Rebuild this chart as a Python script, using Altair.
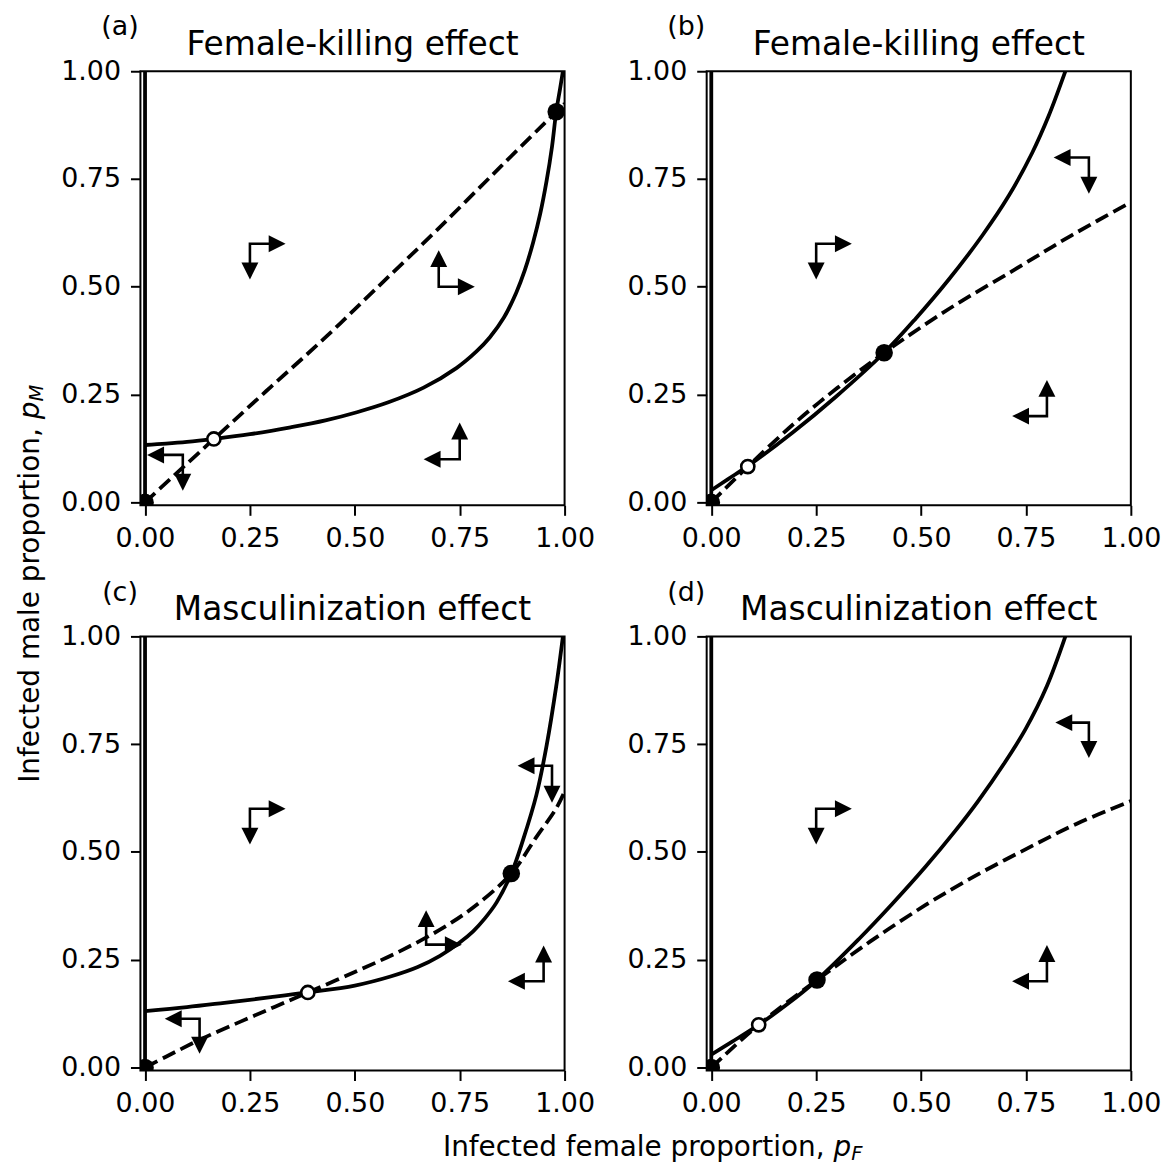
import altair as alt
import pandas as pd

FONT = "DejaVu Sans"

# ---------------- text content ----------------
TICKS = [0.0, 0.25, 0.5, 0.75, 1.0]
LETTERS = ["(a)", "(b)", "(c)", "(d)"]
TITLES = ["Female-killing effect", "Female-killing effect",
          "Masculinization effect", "Masculinization effect"]
XLABEL = "Infected female proportion,"
YLABEL = "Infected male proportion,"
VAR = "p"
XSUB = "F"
YSUB = "M"

VLINE_X = [0.0]

# ---------------- panel (a) ----------------
A_SOLID_X = [0.0, 0.05, 0.10, 0.164, 0.25, 0.347, 0.43, 0.505, 0.58, 0.664, 0.743, 0.79,
             0.822, 0.855, 0.885, 0.905, 0.925, 0.942, 0.957, 0.970, 0.980, 0.989, 0.996]
A_SOLID_Y = [0.133, 0.136, 0.140, 0.147, 0.158, 0.174, 0.190, 0.209, 0.232, 0.266, 0.312, 0.350,
             0.383, 0.428, 0.487, 0.538, 0.603, 0.670, 0.745, 0.825, 0.906, 0.958, 1.0]
A_DASH_X = [0.0, 0.164, 0.30, 0.426, 0.55, 0.695, 0.85, 0.98, 1.0]
A_DASH_Y = [0.0, 0.147, 0.268, 0.379, 0.495, 0.631, 0.781, 0.906, 0.925]
A_STABLE_X = [0.0, 0.98]
A_STABLE_Y = [0.0, 0.906]
A_UNSTABLE_X = [0.164]
A_UNSTABLE_Y = [0.147]
A_ARROW_CX = [0.25, 0.70, 0.75, 0.09]
A_ARROW_CY = [0.60, 0.50, 0.10, 0.11]
A_ARROW_HX = [0.335, 0.786, 0.664, 0.005]
A_ARROW_VY = [0.517, 0.585, 0.185, 0.027]

# ---------------- panel (b) ----------------
B_SOLID_X = [0.0, 0.04, 0.087, 0.194, 0.297, 0.412, 0.487, 0.567, 0.646, 0.709, 0.765, 0.804, 0.844]
B_SOLID_Y = [0.028, 0.054, 0.084, 0.162, 0.245, 0.347, 0.426, 0.518, 0.619, 0.711, 0.811, 0.896, 1.0]
B_DASH_X = [0.0, 0.087, 0.20, 0.30, 0.412, 0.567, 0.725, 0.86, 1.0]
B_DASH_Y = [0.0, 0.083, 0.185, 0.265, 0.347, 0.449, 0.541, 0.620, 0.696]
B_STABLE_X = [0.0, 0.412]
B_STABLE_Y = [0.0, 0.347]
B_UNSTABLE_X = [0.087]
B_UNSTABLE_Y = [0.083]
B_ARROW_CX = [0.25, 0.90, 0.80]
B_ARROW_CY = [0.60, 0.80, 0.20]
B_ARROW_HX = [0.335, 0.816, 0.717]
B_ARROW_VY = [0.517, 0.716, 0.284]

# ---------------- panel (c) ----------------
C_SOLID_X = [0.0, 0.1, 0.189, 0.3, 0.388, 0.5, 0.585, 0.65, 0.703, 0.75, 0.782, 0.81, 0.838,
             0.873, 0.901, 0.933, 0.957, 0.980, 0.996]
C_SOLID_Y = [0.131, 0.140, 0.150, 0.163, 0.174, 0.190, 0.211, 0.233, 0.259, 0.290, 0.316, 0.346,
             0.383, 0.450, 0.528, 0.633, 0.746, 0.884, 1.0]
C_DASH_X = [0.0, 0.05, 0.134, 0.229, 0.31, 0.388, 0.506, 0.608, 0.70, 0.782, 0.873, 0.933, 0.98, 1.0]
C_DASH_Y = [0.0, 0.025, 0.066, 0.107, 0.141, 0.174, 0.224, 0.270, 0.318, 0.371, 0.450, 0.535, 0.601, 0.640]
C_STABLE_X = [0.0, 0.873]
C_STABLE_Y = [0.0, 0.450]
C_UNSTABLE_X = [0.388]
C_UNSTABLE_Y = [0.174]
C_ARROW_CX = [0.25, 0.97, 0.67, 0.95, 0.13]
C_ARROW_CY = [0.60, 0.70, 0.285, 0.20, 0.113]
C_ARROW_HX = [0.335, 0.888, 0.755, 0.865, 0.047]
C_ARROW_VY = [0.517, 0.614, 0.365, 0.283, 0.032]

# ---------------- panel (d) ----------------
D_SOLID_X = [0.0, 0.05, 0.113, 0.18, 0.252, 0.352, 0.43, 0.511, 0.58, 0.636, 0.70, 0.749, 0.80, 0.844]
D_SOLID_Y = [0.030, 0.060, 0.099, 0.146, 0.203, 0.298, 0.378, 0.466, 0.547, 0.618, 0.708, 0.785, 0.885, 1.0]
D_DASH_X = [0.0, 0.113, 0.252, 0.38, 0.511, 0.63, 0.749, 0.87, 1.0]
D_DASH_Y = [0.0, 0.099, 0.203, 0.293, 0.377, 0.445, 0.506, 0.565, 0.618]
D_STABLE_X = [0.0, 0.252]
D_STABLE_Y = [0.0, 0.203]
D_UNSTABLE_X = [0.113]
D_UNSTABLE_Y = [0.099]
D_ARROW_CX = [0.25, 0.90, 0.80]
D_ARROW_CY = [0.60, 0.80, 0.20]
D_ARROW_HX = [0.335, 0.820, 0.717]
D_ARROW_VY = [0.517, 0.718, 0.284]

# ---------------- styling / geometry ----------------
W, H = 426, 436
XS = alt.Scale(domain=[-0.011, 1.0], nice=False, zero=False)
YS = alt.Scale(domain=[-0.007, 1.0], nice=False, zero=False)
AX = alt.Axis(values=TICKS, format=".2f", title=None, grid=False, domain=False,
              tickSize=10, tickWidth=2, tickColor="black",
              labelFont=FONT, labelFontSize=27, labelColor="black",
              labelPadding=10, labelFlush=False, labelOverlap=False)
HEAD_SHAPES = {
    "right": "M0,0L-2,-1L-2,1Z",
    "left": "M0,0L2,-1L2,1Z",
    "up": "M0,0L-1,2L1,2Z",
    "down": "M0,0L-1,-2L1,-2Z",
}
SHAFT_GAP = 0.02
CURVE = "catmull-rom"


def X(f):
    return alt.X(f, type="quantitative", scale=XS, axis=AX)


def Y(f):
    return alt.Y(f, type="quantitative", scale=YS, axis=AX)


def txt(s, x, y, size, align="center", angle=0, style="normal"):
    kw = dict(font=FONT, fontSize=size, align=align, baseline="alphabetic",
              color="black", fontStyle=style)
    if angle:
        kw["angle"] = angle
    return alt.Chart(pd.DataFrame({"t": [s]})).mark_text(**kw).encode(
        text="t:N", x=alt.value(x), y=alt.value(y))


def panel(i, sx, sy, dx, dy, stx, sty, unx, uny, acx, acy, ahx, avy, extra=()):
    solid = alt.Chart(pd.DataFrame({"x": sx, "y": sy})).mark_line(
        color="black", strokeWidth=3.8, interpolate=CURVE, clip=True).encode(
        x=X("x"), y=Y("y"))
    rule = alt.Chart(pd.DataFrame({"x": VLINE_X})).mark_rule(
        color="black", strokeWidth=3.8).encode(x=X("x"))
    dashed = alt.Chart(pd.DataFrame({"x": dx, "y": dy})).mark_line(
        color="black", strokeWidth=3.8, strokeDash=[14, 6], interpolate=CURVE,
        clip=True).encode(x=X("x"), y=Y("y"))

    shaft_rows, head_rows = [], []
    for k, (cx, cy, hx, vy) in enumerate(zip(acx, acy, ahx, avy)):
        sgx = 1 if hx > cx else -1
        sgy = 1 if vy > cy else -1
        shaft_rows += [
            dict(id=k, o=0, x=hx - sgx * SHAFT_GAP, y=cy),
            dict(id=k, o=1, x=cx, y=cy),
            dict(id=k, o=2, x=cx, y=vy - sgy * SHAFT_GAP),
        ]
        head_rows += [
            dict(x=hx, y=cy, d="right" if sgx > 0 else "left"),
            dict(x=cx, y=vy, d="up" if sgy > 0 else "down"),
        ]
    shafts = alt.Chart(pd.DataFrame(shaft_rows)).mark_line(
        color="black", strokeWidth=2.6, strokeJoin="miter", strokeCap="butt").encode(
        x=X("x"), y=Y("y"), detail="id:N", order="o:Q")
    heads = alt.Chart(pd.DataFrame(head_rows)).mark_point(
        filled=True, color="black", size=289, opacity=1, strokeWidth=0).encode(
        x=X("x"), y=Y("y"),
        shape=alt.Shape("d:N", scale=alt.Scale(domain=list(HEAD_SHAPES.keys()),
                                               range=list(HEAD_SHAPES.values())),
                        legend=None))
    stable = alt.Chart(pd.DataFrame({"x": stx, "y": sty})).mark_point(
        shape="circle", filled=True, color="black", size=310, opacity=1, clip=True).encode(
        x=X("x"), y=Y("y"))
    unstable = alt.Chart(pd.DataFrame({"x": unx, "y": uny})).mark_point(
        shape="circle", filled=True, fill="white", stroke="black", strokeWidth=2.6,
        size=175, opacity=1, clip=True).encode(x=X("x"), y=Y("y"))

    layers = [solid, rule, dashed, shafts, heads, stable, unstable,
              txt(LETTERS[i], -20.5, -36, 27),
              txt(TITLES[i], W / 2, -16, 33)]
    layers += list(extra)
    return alt.layer(*layers).properties(width=W, height=H)


ylab = [
    txt(YLABEL, -101.5, 358.5, 28, align="right", angle=270),
    txt(VAR, -101.5, 349.6, 28, align="left", angle=270, style="italic"),
    txt(YSUB, -97.5, 331.8, 19.6, align="left", angle=270, style="italic"),
]
xlab = [
    txt(XLABEL, 687.1, 521.6, 28, align="right"),
    txt(VAR, 696.0, 521.6, 28, align="left", style="italic"),
    txt(XSUB, 713.8, 525.6, 19.6, align="left", style="italic"),
]

pa = panel(0, A_SOLID_X, A_SOLID_Y, A_DASH_X, A_DASH_Y, A_STABLE_X, A_STABLE_Y,
           A_UNSTABLE_X, A_UNSTABLE_Y, A_ARROW_CX, A_ARROW_CY, A_ARROW_HX, A_ARROW_VY, ylab)
pb = panel(1, B_SOLID_X, B_SOLID_Y, B_DASH_X, B_DASH_Y, B_STABLE_X, B_STABLE_Y,
           B_UNSTABLE_X, B_UNSTABLE_Y, B_ARROW_CX, B_ARROW_CY, B_ARROW_HX, B_ARROW_VY)
pc = panel(2, C_SOLID_X, C_SOLID_Y, C_DASH_X, C_DASH_Y, C_STABLE_X, C_STABLE_Y,
           C_UNSTABLE_X, C_UNSTABLE_Y, C_ARROW_CX, C_ARROW_CY, C_ARROW_HX, C_ARROW_VY, xlab)
pd_ = panel(3, D_SOLID_X, D_SOLID_Y, D_DASH_X, D_DASH_Y, D_STABLE_X, D_STABLE_Y,
            D_UNSTABLE_X, D_UNSTABLE_Y, D_ARROW_CX, D_ARROW_CY, D_ARROW_HX, D_ARROW_VY)

chart = alt.concat(pa, pb, pc, pd_, columns=2,
                   spacing={"row": 131.6, "column": 142.7}, bounds="flush").properties(
    padding={"left": 8, "top": 2, "right": 0, "bottom": 0}
).configure_view(stroke="black", strokeWidth=2)

chart.save("out.html", embed_options={"renderer": "svg", "actions": False})
